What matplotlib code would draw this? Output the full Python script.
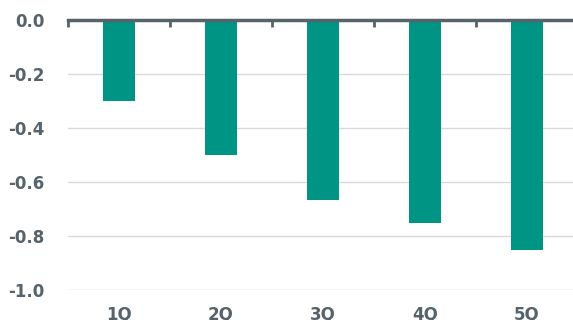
import matplotlib
matplotlib.use('Agg')
import matplotlib.pyplot as plt

quarters = ['1Q', '2Q', '3Q', '4Q', '5Q']
values = [-0.30, -0.50, -0.665, -0.75, -0.85]

bar_color = '#009485'
text_color = '#56636b'

fig = plt.figure(figsize=(5.73, 3.2), dpi=100)
# axes stretches a little past the right edge, like the source export
ax = fig.add_axes([68 / 573, 30 / 320, 510 / 573, 270 / 320])

x = range(len(quarters))
ax.bar(x, values, width=0.31, color=bar_color, zorder=3)

ax.set_xlim(-0.5, len(quarters) - 0.5)
ax.set_ylim(-1.0, 0.0)
yt = [0.0, -0.2, -0.4, -0.6, -0.8, -1.0]
ax.set_yticks(yt)
ax.set_yticklabels(['%.1f' % v for v in yt])

ax.set_xticks([i - 0.5 for i in range(len(quarters) + 1)])
ax.set_xticklabels([])
ax.xaxis.set_ticks_position('top')
ax.tick_params(axis='x', length=5, width=2, color=text_color, direction='in', pad=0)
ax.tick_params(axis='y', length=0, pad=17, labelsize=12, labelcolor=text_color)
for lbl in ax.get_yticklabels():
    lbl.set_fontweight('bold')

for i, q in enumerate(quarters):
    ax.text(i, -1.09, q, ha='center', va='center', fontsize=12,
            fontweight='bold', color=text_color)

ax.grid(axis='y', color='#d9d9d9', linewidth=1, zorder=0)
for side in ['left', 'right', 'bottom']:
    ax.spines[side].set_visible(False)
ax.spines['top'].set_color(text_color)
ax.spines['top'].set_linewidth(2.5)
ax.spines['top'].set_zorder(4)

fig.savefig('out.png', dpi=100)
